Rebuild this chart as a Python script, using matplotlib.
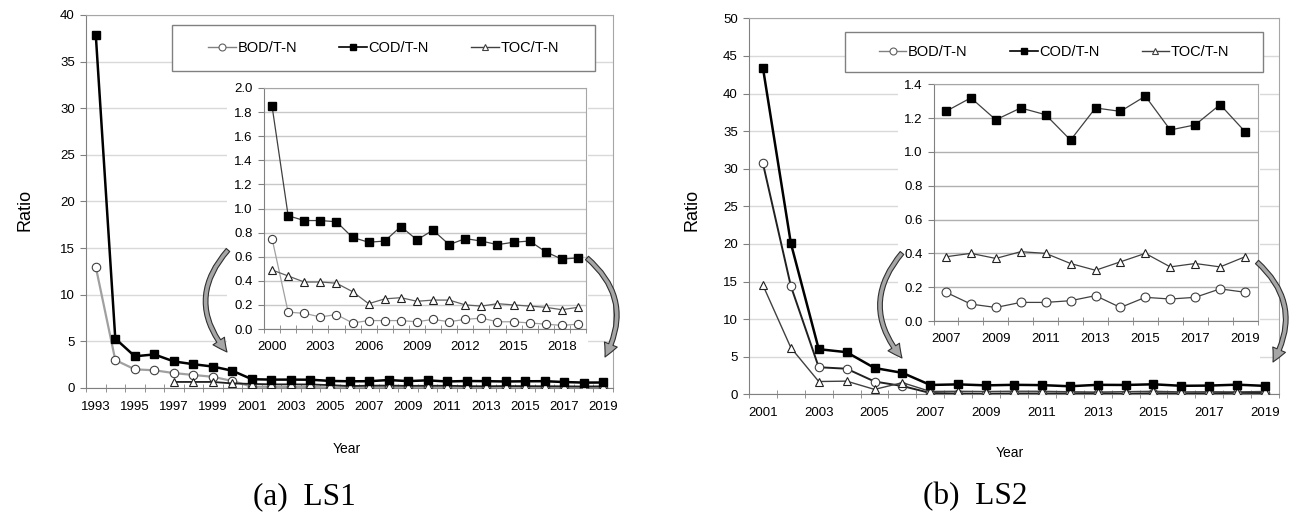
import numpy as np
import matplotlib
matplotlib.use("Agg")
import matplotlib.pyplot as plt
from matplotlib.lines import Line2D
from matplotlib.patches import Rectangle, FancyArrowPatch

plt.rcParams['font.family'] = ['Liberation Sans', 'DejaVu Sans']

# LS1 (1993-2019)
years1 = list(range(1993, 2020))
bod1 = [13.0, 3.0, 2.0, 1.9, 1.6, 1.4, 1.2, 0.75, 0.14, 0.13, 0.10, 0.12, 0.05, 0.07,
        0.07, 0.07, 0.06, 0.08, 0.06, 0.08, 0.09, 0.06, 0.06, 0.05, 0.04, 0.03, 0.04]
cod1 = [37.9, 5.3, 3.4, 3.6, 2.85, 2.55, 2.3, 1.85, 0.94, 0.90, 0.90, 0.89, 0.76, 0.72,
        0.73, 0.85, 0.74, 0.82, 0.70, 0.75, 0.73, 0.70, 0.72, 0.73, 0.64, 0.58, 0.59]
toc1 = [np.nan, np.nan, np.nan, np.nan, 0.65, 0.65, 0.65, 0.49, 0.44, 0.39, 0.39, 0.38, 0.31, 0.21,
        0.25, 0.26, 0.23, 0.24, 0.24, 0.20, 0.19, 0.21, 0.20, 0.19, 0.18, 0.16, 0.18]
inset1_start = 2000

# LS2 (2001-2019)
years2 = list(range(2001, 2020))
bod2 = [30.7, 14.4, 3.6, 3.4, 1.7, 1.1, 0.17, 0.10, 0.08, 0.11, 0.11, 0.12, 0.15, 0.08,
        0.14, 0.13, 0.14, 0.19, 0.17]
cod2 = [43.4, 20.1, 6.0, 5.6, 3.5, 2.85, 1.24, 1.32, 1.19, 1.26, 1.22, 1.07, 1.26, 1.24,
        1.33, 1.13, 1.16, 1.28, 1.12]
toc2 = [14.5, 6.2, 1.7, 1.75, 0.65, 1.55, 0.38, 0.40, 0.37, 0.41, 0.40, 0.34, 0.30, 0.35,
        0.40, 0.32, 0.34, 0.32, 0.38]
inset2_start = 2007

labels = ["BOD/T-N", "COD/T-N", "TOC/T-N"]

W, H = 1306, 514
fig = plt.figure(figsize=(W / 100, H / 100), dpi=100)


def px(x0, y0, x1, y1):
    # pixel box (top-left, bottom-right) -> figure fraction rect
    return [x0 / W, 1 - y1 / H, (x1 - x0) / W, (y1 - y0) / H]


def cat_axis(ax, years, step, ymax, ystep, fmt, grid_c):
    n = len(years)
    ax.set_xlim(-0.5, n - 0.5)
    ax.set_ylim(0, ymax)
    ax.set_xticks(np.arange(0, n, step))
    ax.set_xticklabels([str(y) for y in years[::step]])
    ax.set_xticks(np.arange(-0.5, n, 1), minor=True)
    ax.tick_params(axis='x', which='major', length=0, pad=9, labelsize=9.5)
    ax.tick_params(axis='x', which='minor', length=6, direction='inout', color='#808080')
    ax.set_yticks(np.arange(0, ymax + ystep / 2, ystep))
    ax.set_yticklabels([fmt.format(v) for v in np.arange(0, ymax + ystep / 2, ystep)])
    ax.tick_params(axis='y', length=4, direction='out', color='#808080', labelsize=9.5, pad=4)
    ax.grid(axis='y', color=grid_c, lw=1)
    ax.set_axisbelow(True)
    for s in ax.spines.values():
        s.set_color('#a6a6a6')
    ax.spines['left'].set_color('#808080')
    ax.spines['bottom'].set_color('#808080')


def draw(ax, x, bod, cod, toc, c_bod, c_cod, c_toc, lw_bod, lw_cod, lw_toc, ms):
    ax.plot(x, bod, color=c_bod, lw=lw_bod, marker='o', ms=ms + 0.6, mfc='white',
            mec='#404040', mew=0.8, zorder=3)
    ax.plot(x, toc, color=c_toc, lw=lw_toc, marker='^', ms=ms + 0.4, mfc='white',
            mec='#202020', mew=0.8, zorder=3)
    ax.plot(x, cod, color=c_cod, lw=lw_cod, marker='s', ms=ms, mfc='black',
            mec='black', zorder=4)


def legend_box(x0, y0, x1, y1):
    fig.patches.append(Rectangle((x0 / W, 1 - y1 / H), (x1 - x0) / W, (y1 - y0) / H,
                                 transform=fig.transFigure, facecolor='white',
                                 edgecolor='#808080', lw=1, zorder=3))
    hs = [Line2D([], [], color='#808080', lw=1, marker='o', ms=5, mfc='white', mec='#606060', mew=0.8),
          Line2D([], [], color='black', lw=1.2, marker='s', ms=4.5, mfc='black', mec='black'),
          Line2D([], [], color='#404040', lw=1, marker='^', ms=5, mfc='white', mec='#404040', mew=0.8)]
    lg = fig.legend(hs, labels, loc='center', bbox_to_anchor=((x0 + x1) / 2 / W, 1 - (y0 + y1) / 2 / H),
                    ncol=3, frameon=False, fontsize=10.5, handlelength=1.9,
                    columnspacing=2.9, handletextpad=0.1)
    lg.set_zorder(5)


def white_rect(x0, y0, x1, y1):
    fig.patches.append(Rectangle((x0 / W, 1 - y1 / H), (x1 - x0) / W, (y1 - y0) / H,
                                 transform=fig.transFigure, facecolor='white',
                                 edgecolor='none', zorder=1))


def arrow(p0, p1, rad):
    a = FancyArrowPatch((p0[0] / W, 1 - p0[1] / H), (p1[0] / W, 1 - p1[1] / H),
                        transform=fig.transFigure, connectionstyle="arc3,rad=%s" % rad,
                        arrowstyle="simple,head_width=0.9,head_length=0.9,tail_width=0.3",
                        mutation_scale=11, facecolor='#a6a6a6', edgecolor='#303030',
                        lw=0.8, shrinkA=0, shrinkB=0, zorder=6)
    fig.patches.append(a)


# ---- (a) LS1 ----
ax1 = fig.add_axes(px(86, 15, 613, 388))
x1 = np.arange(len(years1))
draw(ax1, x1, bod1, cod1, toc1, '#a0a0a0', 'black', '#202020', 1.6, 1.8, 1.3, 5.5)
cat_axis(ax1, years1, 2, 40, 5, "{:.0f}", '#d9d9d9')

white_rect(227, 80, 588, 366)
k = years1.index(inset1_start)
ins1 = fig.add_axes(px(264, 88, 586, 329))
ins1.set_zorder(2)
xi = np.arange(len(years1) - k)
draw(ins1, xi, bod1[k:], cod1[k:], toc1[k:], '#a0a0a0', '#404040', '#606060', 0.9, 0.9, 0.9, 5.3)
cat_axis(ins1, years1[k:], 3, 2.0, 0.2, "{:.1f}", '#c8c8c8')

legend_box(172, 25, 595, 71)
arrow((228, 250), (227, 352), 0.43)
arrow((587, 258), (605, 357), -0.4)

fig.text(25 / W, 1 - 210 / H, "Ratio", rotation=90, ha='center', va='center', fontsize=13)
fig.text(347 / W, 1 - 449 / H, "Year", ha='center', va='center', fontsize=10)
fig.text(304 / W, 1 - 497 / H, "(a)  LS1", ha='center', va='center', fontsize=22.5,
         family='Liberation Serif')

# ---- (b) LS2 ----
ax2 = fig.add_axes(px(749, 18.3, 1279, 394.3))
x2 = np.arange(len(years2))
draw(ax2, x2, bod2, cod2, toc2, '#202020', 'black', '#404040', 1.4, 1.8, 1.0, 5.5)
cat_axis(ax2, years2, 2, 50, 5, "{:.0f}", '#d9d9d9')

white_rect(898, 78, 1260, 361)
k2 = years2.index(inset2_start)
ins2 = fig.add_axes(px(933.5, 84.3, 1257.5, 321))
ins2.set_zorder(2)
xi2 = np.arange(len(years2) - k2)
draw(ins2, xi2, bod2[k2:], cod2[k2:], toc2[k2:], '#404040', '#404040', '#404040', 0.9, 0.9, 0.9, 5.8)
cat_axis(ins2, years2[k2:], 2, 1.4, 0.2, "{:.1f}", '#b0b0b0')

legend_box(845, 32, 1263, 72)
arrow((902, 253), (902, 358), 0.42)
arrow((1257, 262), (1273, 362), -0.4)

fig.text(692 / W, 1 - 210 / H, "Ratio", rotation=90, ha='center', va='center', fontsize=13)
fig.text(1010 / W, 1 - 453 / H, "Year", ha='center', va='center', fontsize=10)
fig.text(975 / W, 1 - 497 / H, "(b)  LS2", ha='center', va='center', fontsize=22.5,
         family='Liberation Serif')

fig.savefig("out.png", dpi=100)
